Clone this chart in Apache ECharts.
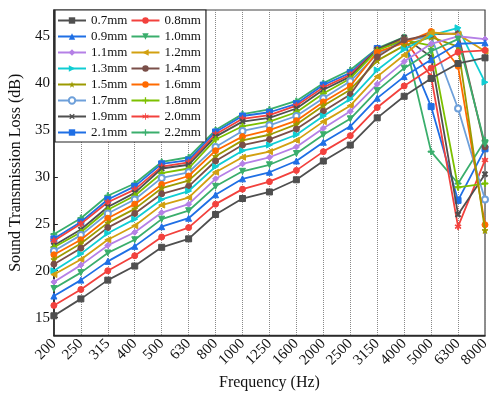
<!DOCTYPE html>
<html>
<head>
<meta charset="utf-8">
<script src="https://cdn.jsdelivr.net/npm/echarts@6/dist/echarts.min.js"></script>
<style>
  html, body { margin: 0; padding: 0; background: #fff; }
  #chart { width: 495px; height: 396px; }
</style>
</head>
<body>
<div id="chart"></div>
<script>
// frequency bands (Hz)
const freqs = ['200','250','315','400','500','630','800','1000','1250','1600','2000','2500','3150','4000','5000','6300','8000'];
const yTicks = [15, 20, 25, 30, 35, 40, 45];

// sound transmission loss (dB) per thickness
const t07 = [15.2, 17.0, 19.0, 20.5, 22.5, 23.4, 26.0, 27.7, 28.4, 29.7, 31.7, 33.4, 36.3, 38.6, 40.5, 42.1, 42.7];
const t08 = [16.3, 18.0, 20.0, 21.6, 23.6, 24.6, 27.1, 28.7, 29.5, 30.7, 32.7, 34.4, 37.4, 39.7, 41.6, 43.3, 43.5];
const t09 = [17.3, 19.0, 21.0, 22.6, 24.7, 25.6, 28.1, 29.8, 30.5, 31.7, 33.7, 35.4, 38.4, 40.7, 42.5, 44.2, 44.3];
const t10 = [18.1, 19.8, 21.9, 23.3, 25.5, 26.4, 29.0, 30.6, 31.3, 32.5, 34.5, 36.2, 39.2, 41.6, 43.4, 44.7, 33.5];
const t11 = [18.8, 20.6, 22.7, 24.1, 26.2, 27.1, 29.8, 31.4, 32.1, 33.2, 35.2, 37.0, 39.9, 42.3, 44.2, 45.0, 44.7];
const t12 = [19.6, 21.2, 23.3, 24.8, 27.0, 27.8, 30.5, 32.1, 32.7, 33.9, 35.9, 37.6, 40.7, 43.0, 45.4, 45.2, 43.4];
const t13 = [20.0, 21.8, 24.0, 25.5, 27.6, 28.5, 31.1, 32.8, 33.4, 34.5, 36.5, 38.3, 41.4, 43.6, 45.1, 45.9, 40.1];
const t14 = [20.7, 22.4, 24.6, 26.1, 28.2, 29.0, 31.7, 33.4, 34.0, 35.1, 37.0, 38.8, 42.8, 44.6, 45.2, 45.3, 33.2];
const t15 = [21.2, 22.9, 25.1, 26.6, 28.8, 29.6, 32.2, 33.9, 34.5, 35.6, 37.6, 39.3, 42.4, 44.0, 44.9, 43.9, 24.3];
const t16 = [21.7, 23.3, 25.6, 27.1, 29.2, 30.1, 32.8, 34.3, 35.0, 36.0, 38.0, 39.7, 43.3, 44.3, 45.5, 41.8, 24.9];
const t17 = [22.1, 23.8, 26.1, 27.6, 29.9, 30.5, 33.2, 34.9, 35.5, 36.5, 38.4, 40.2, 43.1, 44.5, 45.0, 37.3, 27.6];
const t18 = [22.5, 24.1, 26.5, 28.0, 30.4, 30.9, 34.0, 35.4, 35.9, 36.9, 38.9, 40.5, 43.5, 44.6, 44.0, 28.9, 29.3];
const t19 = [22.7, 24.4, 26.8, 28.3, 30.9, 31.3, 34.3, 35.9, 36.3, 37.3, 39.3, 40.7, 43.6, 44.9, 42.8, 26.0, 30.3];
const t20 = [23.2, 25.0, 27.3, 28.65, 31.1, 31.55, 34.55, 36.2, 36.6, 37.6, 39.55, 40.9, 43.6, 44.7, 40.7, 24.7, 31.8];
const t21 = [23.4, 25.2, 27.6, 29.0, 31.4, 31.8, 34.8, 36.5, 36.9, 37.8, 39.8, 41.1, 43.7, 44.4, 37.5, 27.5, 33.0];
const t22 = [23.9, 25.6, 28.0, 29.3, 31.6, 32.1, 35.0, 36.7, 37.2, 38.1, 40.0, 41.4, 43.7, 44.9, 32.7, 29.3, 33.9];

const names = ['0.7mm','0.8mm','0.9mm','1.0mm','1.1mm','1.2mm','1.3mm','1.4mm','1.5mm','1.6mm','1.7mm','1.8mm','1.9mm','2.0mm','2.1mm','2.2mm'];
const values = [t07, t08, t09, t10, t11, t12, t13, t14, t15, t16, t17, t18, t19, t20, t21, t22];

const plus = 'path://M4,0h2v4h4v2h-4v4h-2v-4h-4v-2h4z';
const star = 'path://M5,0L6.2,3.8H10L7,6.2L8.1,10L5,7.7L1.9,10L3,6.2L0,3.8H3.8Z';
const aster = 'path://M4.4,0h1.2v3.9l3.4,-2l0.6,1l-3.4,2.1l3.4,2l-0.6,1l-3.4,-2v3.9h-1.2v-3.9l-3.4,2l-0.6,-1l3.4,-2l-3.4,-2.1l0.6,-1l3.4,2z';
const dash = 'path://M0,4h10v2h-10z';

const looks = [
  { c: '#4f4f4f', s: 'rect' },
  { c: '#f2413d', s: 'circle' },
  { c: '#1f6fe5', s: 'triangle' },
  { c: '#3aae6c', s: 'triangle', r: 180 },
  { c: '#b580e6', s: 'diamond' },
  { c: '#d2a010', s: 'triangle', r: 90 },
  { c: '#10cdd3', s: 'triangle', r: -90 },
  { c: '#7a4f49', s: 'circle' },
  { c: '#9c9a00', s: star },
  { c: '#ff6a00', s: 'circle' },
  { c: '#6ea0da', s: 'emptyCircle' },
  { c: '#7cc000', s: plus },
  { c: '#4f4f4f', s: plus, r: 45 },
  { c: '#f2413d', s: aster },
  { c: '#1f6fe5', s: dash },
  { c: '#3aae6c', s: plus }
];

const font = '"Liberation Serif", "Times New Roman", serif';

const chart = echarts.init(document.getElementById('chart'), null, { renderer: 'canvas' });

chart.setOption({
  animation: false,
  textStyle: { fontFamily: font, color: '#111' },
  grid: { left: 53, right: 10, top: 10, bottom: 53, show: true, borderColor: '#444', borderWidth: 1.2, backgroundColor: 'transparent' },
  legend: {
    data: names,
    left: 55,
    top: 10,
    width: 150,
    orient: 'horizontal',
    padding: [4, 5, 3, 2],
    itemWidth: 28,
    itemHeight: 8,
    itemGap: 3,
    borderColor: '#222',
    borderWidth: 1.2,
    backgroundColor: '#fff',
    textStyle: { fontFamily: font, fontSize: 13, lineHeight: 13, color: '#111' }
  },
  xAxis: {
    type: 'category',
    data: freqs,
    boundaryGap: false,
    name: 'Frequency (Hz)',
    nameLocation: 'middle',
    nameGap: 34,
    nameTextStyle: { fontFamily: font, fontSize: 16, color: '#111' },
    axisLine: { lineStyle: { color: '#222', width: 1.5 } },
    axisTick: { show: false },
    axisLabel: { rotate: 45, fontFamily: font, fontSize: 15, color: '#111', margin: 6, interval: 0 },
    splitLine: { show: true, lineStyle: { type: 'dotted', color: '#888', width: 1 } }
  },
  yAxis: {
    type: 'value',
    min: 13.1,
    max: 47.8,
    name: 'Sound Transmission Loss (dB)',
    nameLocation: 'middle',
    nameGap: 22,
    nameTextStyle: { fontFamily: font, fontSize: 16, color: '#111' },
    axisLine: { show: true, lineStyle: { color: '#222', width: 1.5 } },
    axisTick: { show: true, inside: true, length: 4, customValues: yTicks, lineStyle: { color: '#222' } },
    axisLabel: { fontFamily: font, fontSize: 15, color: '#111', margin: 4, customValues: yTicks },
    splitLine: { show: false }
  },
  series: values.map((v, i) => ({
    name: names[i],
    type: 'line',
    data: v,
    symbol: looks[i].s,
    symbolRotate: looks[i].r || 0,
    symbolSize: 6,
    showAllSymbol: true,
    lineStyle: { width: 1.8, color: looks[i].c },
    itemStyle: { color: looks[i].c, borderColor: looks[i].c },
    z: 2 + (values.length - i)
  }))
});
</script>
</body>
</html>
